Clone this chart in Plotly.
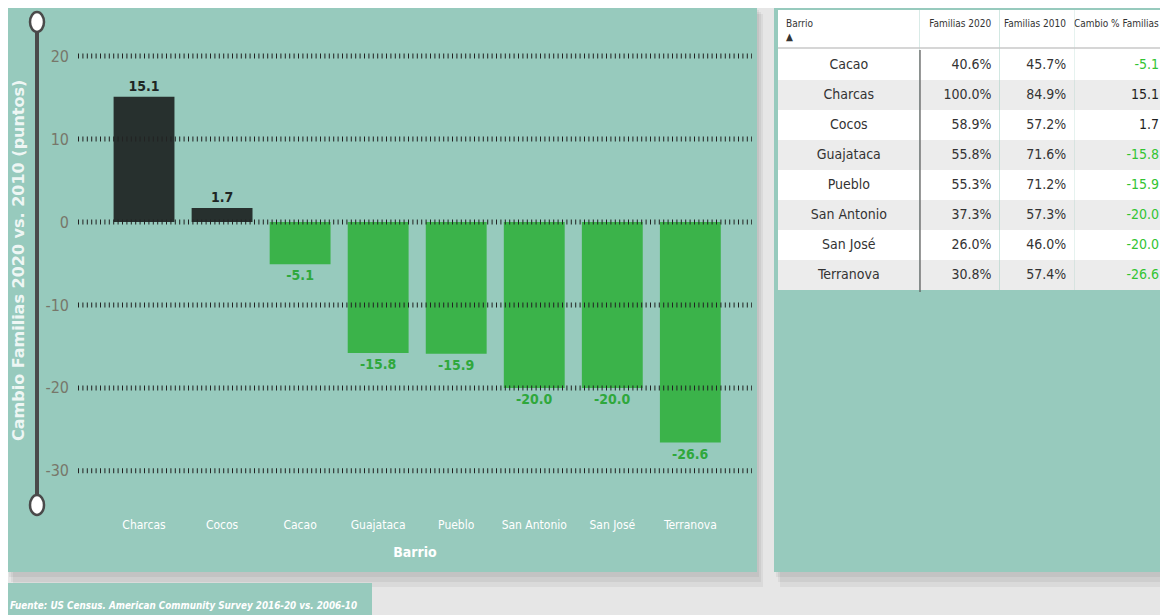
import plotly.graph_objects as go

# ---------------- data ----------------
barrios = ["Cacao", "Charcas", "Cocos", "Guajataca", "Pueblo", "San Antonio", "San José", "Terranova"]
familias_2020 = [40.6, 100.0, 58.9, 55.8, 55.3, 37.3, 26.0, 30.8]
familias_2010 = [45.7, 84.9, 57.2, 71.6, 71.2, 57.3, 46.0, 57.4]
cambio = [-5.1, 15.1, 1.7, -15.8, -15.9, -20.0, -20.0, -26.6]
y_ticks = [20, 10, 0, -10, -20, -30]

# the page has an 8px body margin: window pixel (x, y) -> figure paper coords
OFF = 8
W, H = 1160, 607
def px(x):
    return (x - OFF) / W
def py(y):
    return 1 - (y - OFF) / H

TEAL = "#97CABD"
DARK = "#27302E"
GREEN = "#3BB34A"
GREEN_TXT = "#2FA83C"
FONT = "Liberation Sans Narrow, DejaVu Sans Condensed, Roboto, sans-serif"

# chart order: sorted by change, descending
order = sorted(range(len(barrios)), key=lambda i: -cambio[i])
chart_x = [barrios[i] for i in order]
chart_y = [cambio[i] for i in order]
bar_colors = [DARK if v >= 0 else GREEN for v in chart_y]
lab_colors = ["#1f2624" if v >= 0 else GREEN_TXT for v in chart_y]

fig = go.Figure()

fig.add_trace(go.Bar(
    x=chart_x, y=chart_y,
    marker=dict(color=bar_colors, line=dict(width=0)),
    width=0.78,
    texttemplate="%{y:.1f}", textposition="outside",
    textfont=dict(family=FONT, size=14, color=lab_colors, weight="bold"),
    cliponaxis=False, hoverinfo="skip", showlegend=False,
))

# ---------------- table ----------------
row_fill = ["#ffffff" if i % 2 == 0 else "#ececec" for i in range(len(barrios))]
cambio_colors = ["#1f1f1f" if v >= 0 else "#33c433" for v in cambio]
body_color = "#333333"
fig.add_trace(go.Table(
    domain=dict(x=[px(778), 1.0], y=[py(292), py(10)]),
    columnwidth=[142, 80, 75, 93],
    header=dict(
        values=["Barrio<br>▲", "Familias 2020<br> ", "Familias 2010<br> ", "Cambio % Familias<br> "],
        fill_color="#ffffff",
        line=dict(color="rgba(0,0,0,0)", width=0),
        align=["left", "right", "right", "right"],
        font=dict(family=FONT, size=10, color="#333333"),
        height=38,
    ),
    cells=dict(
        values=[barrios,
                [f"{v:.1f}%" for v in familias_2020],
                [f"{v:.1f}%" for v in familias_2010],
                [f"{v:.1f}" for v in cambio]],
        fill_color=[row_fill] * 4,
        line=dict(color="rgba(0,0,0,0)", width=0),
        align=["center", "right", "right", "right"],
        font=dict(family=FONT, size=14,
                  color=[[body_color] * 8, [body_color] * 8, [body_color] * 8, cambio_colors]),
        height=30,
    ),
))

shapes = []
# shadows + panels
for dx in (6, 4, 2):
    a = 0.05
    shapes.append(dict(type="rect", xref="paper", yref="paper", layer="below",
                       x0=px(7 + dx), x1=px(757 + dx), y0=py(572 + dx * 2.5), y1=py(8 + dx),
                       fillcolor=f"rgba(0,0,0,{a})", line=dict(width=0)))
    shapes.append(dict(type="rect", xref="paper", yref="paper", layer="below",
                       x0=px(774 + dx), x1=px(1168 + dx), y0=py(572 + dx * 2.5), y1=py(8 + dx),
                       fillcolor=f"rgba(0,0,0,{a})", line=dict(width=0)))
shapes.append(dict(type="rect", xref="paper", yref="paper", layer="below",
                   x0=px(7), x1=px(757), y0=py(572), y1=py(2),
                   fillcolor=TEAL, line=dict(width=0)))
shapes.append(dict(type="rect", xref="paper", yref="paper", layer="below",
                   x0=px(774), x1=px(1168), y0=py(572), y1=py(2),
                   fillcolor=TEAL, line=dict(width=0)))
shapes.append(dict(type="rect", xref="paper", yref="paper", layer="below",
                   x0=px(7), x1=px(372), y0=py(620), y1=py(583),
                   fillcolor=TEAL, line=dict(width=0)))

# dotted gridlines above bars
for t in y_ticks:
    shapes.append(dict(type="line", xref="x domain", yref="y", layer="above",
                       x0=0, x1=1, y0=t, y1=t,
                       line=dict(color="#222222", width=5, dash="1px,3.4px")))

# zoom slider decoration
shapes.append(dict(type="line", xref="paper", yref="paper", layer="above",
                   x0=px(37), x1=px(37), y0=py(30), y1=py(497),
                   line=dict(color="#4a4a4a", width=4)))
for cy in (22, 505):
    shapes.append(dict(type="circle", xref="paper", yref="paper", layer="above",
                       x0=px(30), x1=px(44), y0=py(cy + 10), y1=py(cy - 10),
                       fillcolor="#ffffff", line=dict(color="#4a4a4a", width=2.5)))

# table separators
shapes.append(dict(type="line", xref="paper", yref="paper", layer="above",
                   x0=px(778), x1=px(1168), y0=py(48), y1=py(48),
                   line=dict(color="#c8c8c8", width=1.5)))
shapes.append(dict(type="line", xref="paper", yref="paper", layer="above",
                   x0=px(920), x1=px(920), y0=py(50), y1=py(292),
                   line=dict(color="#555555", width=1.2)))

annotations = [
    dict(text="Cambio Familias 2020 vs. 2010 (puntos)", xref="paper", yref="paper",
         x=px(18), y=py(261), xanchor="center", yanchor="middle",
         textangle=-90, showarrow=False,
         font=dict(family="DejaVu Sans", size=16, color="rgba(255,255,255,0.85)", weight="bold")),
    dict(text="<i><b>Fuente: US Census. American Community Survey 2016-20 vs. 2006-10</b></i>",
         xref="paper", yref="paper", x=px(8), y=py(605), xanchor="left", yanchor="middle",
         showarrow=False, font=dict(family=FONT, size=9.8, color="#ffffff")),
]

plot_top, plot_bot = 35, 505
zero_px, unit_px = 222, 8.294
fig.update_layout(
    width=W, height=H,
    margin=dict(l=0, r=0, t=0, b=0),
    paper_bgcolor="#e6e6e6",
    plot_bgcolor="rgba(0,0,0,0)",
    shapes=shapes, annotations=annotations,
    xaxis=dict(domain=[px(78), px(752)], range=[-0.846, 7.79],
               showgrid=False, zeroline=False, showline=False, ticks="",
               tickfont=dict(family=FONT, size=12, color="#ffffff"),
               ticklabelstandoff=11,
               title=dict(text="Barrio", standoff=16,
                          font=dict(family=FONT, size=14, color="#ffffff", weight="bold"))),
    yaxis=dict(domain=[py(plot_bot), py(plot_top)],
               range=[-(plot_bot - zero_px) / unit_px, (zero_px - plot_top) / unit_px],
               tickvals=y_ticks, ticktext=[str(t) for t in y_ticks],
               showgrid=False, zeroline=False, showline=False, ticks="",
               ticklabelstandoff=8,
               tickfont=dict(family=FONT, size=16, color="#77776a")),
)

fig.write_html("out.html")
